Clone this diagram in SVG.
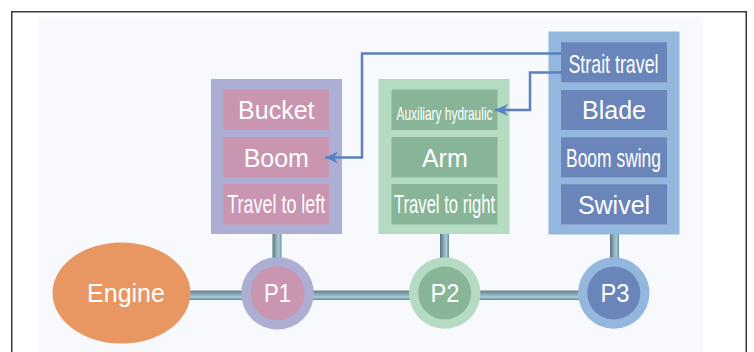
<svg xmlns="http://www.w3.org/2000/svg" width="754" height="352" viewBox="0 0 754 352">
  <defs>
    <style>
      .t { font-family: "Liberation Sans", Arial, sans-serif; fill: #ffffff; text-anchor: middle; }
      .lbl { font-size: 25px; }
      .cond { font-size: 25px; }
      .conn { fill: none; stroke: #5a80bd; stroke-width: 2.5; }
      .p1o { fill: #adaed3; } .p1i { fill: #c995b1; }
      .p2o { fill: #b5dcc3; } .p2i { fill: #88b597; }
      .p3o { fill: #94b7dd; } .p3i { fill: #6a85ba; }
    </style>
    <marker id="arr" markerUnits="userSpaceOnUse" markerWidth="14" markerHeight="12" refX="13" refY="6" orient="auto">
      <path d="M0,0 L13,6 L0,12 L4,6 Z" fill="#5a80bd"/>
    </marker>
    <linearGradient id="pipeH" x1="0" y1="0" x2="0" y2="1">
      <stop offset="0" stop-color="#6b7b82"/>
      <stop offset="0.35" stop-color="#7fa6b4"/>
      <stop offset="0.7" stop-color="#a8ccd8"/>
      <stop offset="1" stop-color="#5f8796"/>
    </linearGradient>
    <linearGradient id="pipeV" x1="0" y1="0" x2="1" y2="0">
      <stop offset="0" stop-color="#5e6f77"/>
      <stop offset="0.35" stop-color="#7fa6b4"/>
      <stop offset="0.7" stop-color="#a8ccd8"/>
      <stop offset="1" stop-color="#6a8a96"/>
    </linearGradient>
  </defs>

  <rect x="0" y="0" width="754" height="352" fill="#ffffff"/>
  <rect x="38" y="17" width="665" height="340" fill="#f8f9fc"/>
  <path d="M11.75,360 V11.75 H746.25 V360" fill="none" stroke="#3a3a3a" stroke-width="1.5"/>

  <g id="pipes">
    <rect x="185" y="290.5" width="430" height="9.5" fill="url(#pipeH)"/>
    <rect x="272.5" y="232" width="9" height="28" fill="url(#pipeV)"/>
    <rect x="440" y="232" width="9" height="28" fill="url(#pipeV)"/>
    <rect x="610" y="232" width="9" height="28" fill="url(#pipeV)"/>
  </g>

  <g id="pump1-box">
    <rect class="p1o" x="211" y="79" width="131" height="155"/>
    <rect class="p1i" x="223.5" y="89.5" width="105.5" height="40.5"/>
    <rect class="p1i" x="223.5" y="137" width="105.5" height="40.5"/>
    <rect class="p1i" x="223.5" y="184" width="105.5" height="40.5"/>
    <text class="t lbl" x="276.3" y="119">Bucket</text>
    <text class="t lbl" x="276.3" y="166.5">Boom</text>
    <text class="t cond" x="276.3" y="213.3" textLength="98" lengthAdjust="spacingAndGlyphs">Travel to left</text>
  </g>

  <g id="pump2-box">
    <rect class="p2o" x="378.5" y="79" width="131" height="155"/>
    <rect class="p2i" x="391.5" y="89.5" width="106" height="40.5"/>
    <rect class="p2i" x="391.5" y="137" width="106" height="40.5"/>
    <rect class="p2i" x="391.5" y="184" width="106" height="40.5"/>
    <text class="t" x="444.5" y="119.5" font-size="18.5" textLength="96" lengthAdjust="spacingAndGlyphs">Auxiliary hydraulic</text>
    <text class="t lbl" x="444.8" y="166.5">Arm</text>
    <text class="t cond" x="444.5" y="213.3" textLength="101" lengthAdjust="spacingAndGlyphs">Travel to right</text>
  </g>

  <g id="pump3-box">
    <rect class="p3o" x="548.5" y="31.5" width="131" height="203"/>
    <rect class="p3i" x="561" y="42.3" width="106" height="40"/>
    <rect class="p3i" x="561" y="90" width="106" height="40"/>
    <rect class="p3i" x="561" y="137.3" width="106" height="40"/>
    <rect class="p3i" x="561" y="184.3" width="106" height="40"/>
    <text class="t cond" x="613.5" y="72.5" textLength="90" lengthAdjust="spacingAndGlyphs">Strait travel</text>
    <text class="t lbl" x="614" y="119">Blade</text>
    <text class="t cond" x="613.5" y="166.5" textLength="95" lengthAdjust="spacingAndGlyphs">Boom swing</text>
    <text class="t lbl" x="614" y="213.5">Swivel</text>
  </g>

  <g id="connectors">
    <path class="conn" d="M561,53.5 H362 V157.5 H325" marker-end="url(#arr)"/>
    <path class="conn" d="M561,72.5 H530 V110 H495" marker-end="url(#arr)"/>
  </g>

  <g id="engine">
    <ellipse cx="121.5" cy="293" rx="69" ry="50.5" fill="#e99762"/>
    <text class="t" x="126" y="302" font-size="25">Engine</text>
  </g>

  <g id="P1">
    <circle cx="277.5" cy="293.3" r="36.3" fill="#adaed3"/>
    <circle cx="277.5" cy="293.3" r="27" fill="#c995b1"/>
    <text class="t" x="277.5" y="302" font-size="25" textLength="27" lengthAdjust="spacingAndGlyphs">P1</text>
  </g>

  <g id="P2">
    <circle cx="444.7" cy="293" r="35.7" fill="#b5dcc3"/>
    <circle cx="444.7" cy="293" r="26.5" fill="#88b597"/>
    <text class="t" x="445" y="302" font-size="25" textLength="29" lengthAdjust="spacingAndGlyphs">P2</text>
  </g>

  <g id="P3">
    <circle cx="613.8" cy="293" r="35.7" fill="#94b7dd"/>
    <circle cx="613.8" cy="293" r="26.5" fill="#6a85ba"/>
    <text class="t" x="615" y="302" font-size="25" textLength="29" lengthAdjust="spacingAndGlyphs">P3</text>
  </g>
</svg>
